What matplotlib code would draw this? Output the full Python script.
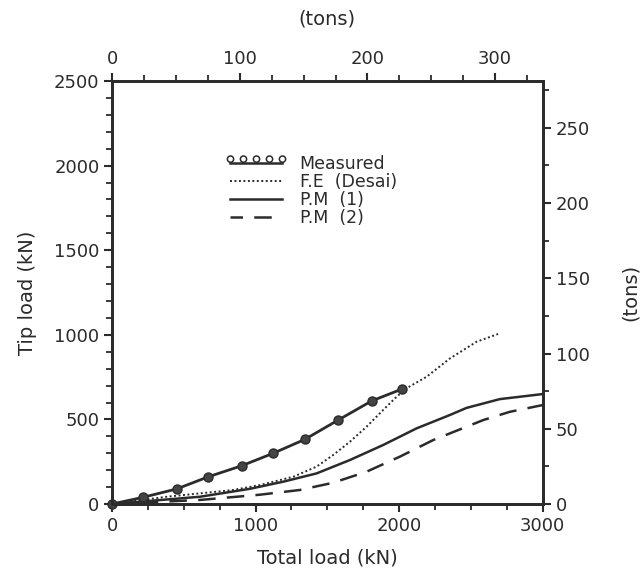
import matplotlib.pyplot as plt
import matplotlib.ticker as ticker
from matplotlib.lines import Line2D
from matplotlib.markers import MarkerStyle
from matplotlib.transforms import Affine2D

KN_PER_TON = 8.896

# measured tip load vs total load (kN)
measured_total = [0, 218, 450, 671, 903, 1123, 1343, 1575, 1808, 2021]
measured_tip = [0, 40, 89, 161, 226, 300, 382, 496, 609, 680]

# finite element (Desai)
fe_total = [0, 381, 845, 1030, 1262, 1425, 1541, 1657, 1773, 1889, 1982, 2051,
            2191, 2353, 2539, 2689]
fe_tip = [0, 43, 83, 112, 161, 221, 290, 368, 457, 556, 634, 684,
          752, 860, 959, 1005]

# P.M (1)
pm1_total = [0, 613, 961, 1193, 1425, 1657, 1889, 2121, 2353, 2469, 2701, 3000]
pm1_tip = [0, 43, 90, 132, 181, 260, 349, 447, 526, 568, 620, 650]

# P.M (2)
pm2_total = [0, 613, 1030, 1309, 1541, 1773, 2005, 2237, 2585, 2771, 3000]
pm2_tip = [0, 24, 55, 83, 126, 191, 280, 378, 496, 545, 585]

ink = '#2b2b2b'
plt.rcParams['font.family'] = ['DejaVu Sans']
plt.rcParams['text.color'] = ink
plt.rcParams['axes.labelcolor'] = ink
plt.rcParams['xtick.color'] = ink
plt.rcParams['ytick.color'] = ink

fig = plt.figure(figsize=(6.4, 5.79), dpi=100)
ax = fig.add_axes([0.175, 0.1295, 0.673, 0.7305])

ax.plot(measured_total, measured_tip, color=ink, lw=2, marker='o', ms=6.5,
        mfc='#444444', mec=ink, clip_on=False, zorder=5)
ax.plot(fe_total, fe_tip, color=ink, lw=1.4, linestyle=(0, (1, 1.3)))
ax.plot(pm1_total, pm1_tip, color=ink, lw=1.8, clip_on=False)
ax.plot(pm2_total, pm2_tip, color=ink, lw=1.8, linestyle=(0, (7, 4.5)), clip_on=False)

ax.set_xlim(0, 3000)
ax.set_ylim(0, 2500)
ax.xaxis.set_major_locator(ticker.MultipleLocator(1000))
ax.xaxis.set_minor_locator(ticker.MultipleLocator(250))
ax.yaxis.set_major_locator(ticker.MultipleLocator(500))
ax.yaxis.set_minor_locator(ticker.MultipleLocator(100))
ax.tick_params(which='major', direction='out', length=6, width=1.5, labelsize=13, pad=3)
ax.tick_params(which='minor', direction='out', length=4, width=1.3)
ax.set_xlabel('Total load (kN)', fontsize=14, labelpad=10)
ax.set_ylabel('Tip load (kN)', fontsize=14, labelpad=12)
for s in ax.spines.values():
    s.set_linewidth(1.8)
    s.set_color(ink)

# secondary scales in tons
axr = ax.twinx()
axr.set_ylim(0, 2500 / KN_PER_TON)
axr.yaxis.set_major_locator(ticker.MultipleLocator(50))
axr.yaxis.set_minor_locator(ticker.MultipleLocator(25))
axr.tick_params(which='major', direction='out', length=6, width=1.5, labelsize=13)
axr.tick_params(which='minor', direction='out', length=4, width=1.3)
axr.set_ylabel('(tons)', fontsize=14, labelpad=22)

axt = ax.twiny()
axt.set_xlim(0, 3000 / KN_PER_TON)
axt.xaxis.set_major_locator(ticker.MultipleLocator(100))
axt.xaxis.set_minor_locator(ticker.MultipleLocator(25))
axt.tick_params(which='major', direction='out', length=6, width=1.5, labelsize=13)
axt.tick_params(which='minor', direction='out', length=4, width=1.3)
axt.set_xlabel('(tons)', fontsize=14, labelpad=18)

for a in (axr, axt):
    for s in a.spines.values():
        s.set_linewidth(1.8)
        s.set_color(ink)

# legend
raised = MarkerStyle('o', fillstyle='none', transform=Affine2D().translate(0, 0.7))
h_meas = (Line2D([], [], color=ink, lw=1.8),
          Line2D([], [], color=ink, lw=0, marker=raised, ms=4.5, mew=1.1))
h_fe = Line2D([], [], color=ink, lw=1.4, linestyle=(0, (1, 1.3)))
h_pm1 = Line2D([], [], color=ink, lw=1.8)
h_pm2 = Line2D([], [], color=ink, lw=1.8, linestyle=(2, (7, 4.5)))
leg = ax.legend([h_meas, h_fe, h_pm1, h_pm2],
                ['Measured', 'F.E  (Desai)', 'P.M  (1)', 'P.M  (2)'],
                loc='upper left', bbox_to_anchor=(0.262, 0.825), frameon=False,
                borderpad=0, borderaxespad=0, handlelength=3.6, handletextpad=0.7,
                labelspacing=0.0, fontsize=12.5, numpoints=5)

fig.savefig('out.png', dpi=100, facecolor='white')
